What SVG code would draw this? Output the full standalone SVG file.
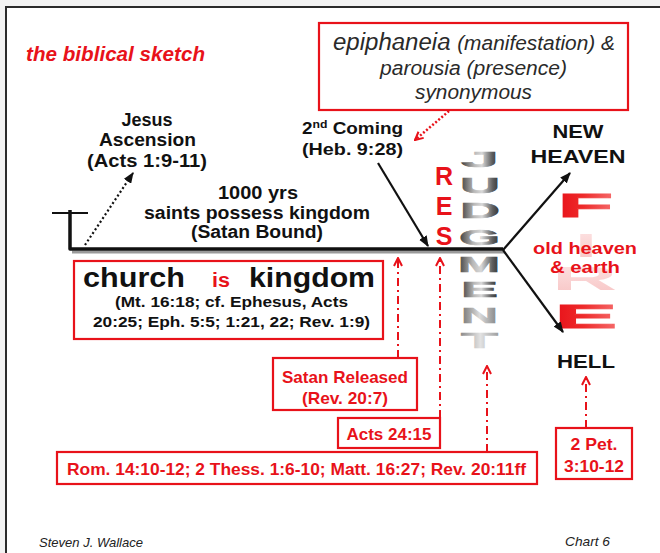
<svg xmlns="http://www.w3.org/2000/svg" width="660" height="553" viewBox="0 0 660 553">
<style>
text{font-family:"Liberation Sans",Arial,sans-serif;}
.b{font-weight:bold;fill:#111;}
.r{font-weight:bold;fill:#e8121a;}
.it{font-style:italic;fill:#2a2a2a;}
.box{fill:#fff;stroke:#e8121a;stroke-width:2.2;}
.rdd{fill:none;stroke:#e8121a;stroke-width:2;stroke-dasharray:8 4 2 4;}
.blk{fill:none;stroke:#111;stroke-width:2.2;}
.jd{font-weight:bold;font-size:22px;fill:url(#metal);stroke:url(#metal);stroke-width:0.6;}
.fr{font-weight:bold;font-size:33px;}
</style>
<defs>
<marker id="ah" viewBox="0 0 10 8" refX="9" refY="4" markerWidth="11" markerHeight="9" markerUnits="userSpaceOnUse" orient="auto"><path d="M0,0 L10,4 L0,8 z" fill="#111"/></marker>
<marker id="rh" viewBox="0 0 10 10" refX="9" refY="5" markerWidth="10" markerHeight="10" markerUnits="userSpaceOnUse" orient="auto"><path d="M1,1 L9,5 L1,9" fill="none" stroke="#e8121a" stroke-width="2"/></marker>
<linearGradient id="metal" x1="0" y1="0" x2="1" y2="0">
<stop offset="0" stop-color="#3a3a3a"/><stop offset="0.35" stop-color="#b8b8b8"/><stop offset="0.55" stop-color="#d8d8d8"/><stop offset="0.82" stop-color="#5e5e5e"/><stop offset="1" stop-color="#2e2e2e"/>
</linearGradient>
<linearGradient id="metal2" x1="0" y1="0" x2="1" y2="0">
<stop offset="0" stop-color="#707070"/><stop offset="0.5" stop-color="#dcdcdc"/><stop offset="1" stop-color="#808080"/>
</linearGradient>
<linearGradient id="fire" x1="0" y1="0" x2="1" y2="0">
<stop offset="0" stop-color="#e8121a"/><stop offset="0.45" stop-color="#ee2a2a"/><stop offset="1" stop-color="#f56a6a"/>
</linearGradient>
<linearGradient id="firel" x1="0" y1="0" x2="0" y2="1">
<stop offset="0" stop-color="#fde4e4"/><stop offset="1" stop-color="#f7c4c4"/>
</linearGradient>
</defs>
<rect x="0" y="0" width="660" height="553" fill="#f2f2f2"/>
<rect x="6" y="7" width="700" height="600" fill="#fff" stroke="#2b2b2b" stroke-width="2"/>

<g id="title"><text x="26" y="61" class="r" font-style="italic" font-size="20" textLength="179" lengthAdjust="spacingAndGlyphs">the biblical sketch</text></g>

<g id="synonymous">
<rect class="box" x="319" y="23" width="309" height="87"/>
<text class="it" x="333" y="50" font-size="23" textLength="282" lengthAdjust="spacingAndGlyphs">epiphaneia <tspan font-size="20">(manifestation) &amp;</tspan></text>
<text class="it" x="380" y="75" font-size="20.5" textLength="187" lengthAdjust="spacingAndGlyphs">parousia (presence)</text>
<text class="it" x="415" y="99" font-size="20.5" textLength="117" lengthAdjust="spacingAndGlyphs">synonymous</text>
</g>

<g id="fire">
<text class="fr" x="558" y="217" fill="url(#fire)" stroke="url(#fire)" stroke-width="1" textLength="55" lengthAdjust="spacingAndGlyphs">F</text>
<text class="fr" x="575" y="257" fill="url(#firel)" textLength="22" lengthAdjust="spacingAndGlyphs">I</text>
<text class="fr" x="552" y="290" fill="url(#firel)" textLength="65" lengthAdjust="spacingAndGlyphs">R</text>
<text class="fr" x="555" y="328" fill="url(#fire)" stroke="url(#fire)" stroke-width="1" textLength="62" lengthAdjust="spacingAndGlyphs">E</text>
</g>

<g id="timeline">
<line x1="72" y1="252" x2="505" y2="252" stroke="#9a9a9a" stroke-width="3"/>
<path d="M70,210 V249 H503" fill="none" stroke="#111" stroke-width="3.5" stroke-linejoin="round"/>
<line x1="52" y1="213" x2="88" y2="213" stroke="#111" stroke-width="2"/>
</g>

<g id="connectors">
<line class="blk" x1="85" y1="245" x2="133" y2="173" stroke-dasharray="2 2.5" marker-end="url(#ah)" stroke-width="2.5"/>
<line class="blk" x1="378" y1="163" x2="428" y2="246" marker-end="url(#ah)"/>
<line class="blk" x1="503" y1="250" x2="570" y2="173" marker-end="url(#ah)"/>
<line class="blk" x1="503" y1="250" x2="563" y2="332" marker-end="url(#ah)"/>
<line x1="449" y1="111" x2="415" y2="140" fill="none" stroke="#e8121a" stroke-width="2.5" stroke-dasharray="2 2" marker-end="url(#rh)"/>
<line class="rdd" x1="398" y1="358" x2="398" y2="258" marker-end="url(#rh)"/>
<line class="rdd" x1="440" y1="418" x2="440" y2="258" marker-end="url(#rh)"/>
<line class="rdd" x1="487" y1="452" x2="487" y2="366" marker-end="url(#rh)"/>
<line class="rdd" x1="586" y1="428" x2="586" y2="377" marker-end="url(#rh)"/>
</g>

<g id="res">
<text class="r" font-size="25" x="444" y="185" text-anchor="middle">R</text>
<text class="r" font-size="25" x="444" y="215" text-anchor="middle">E</text>
<text class="r" font-size="25" x="444" y="245" text-anchor="middle">S</text>
</g>

<g id="judgment">
<text class="jd" x="461" y="167" textLength="38" lengthAdjust="spacingAndGlyphs">J</text>
<text class="jd" x="460" y="193" textLength="40" lengthAdjust="spacingAndGlyphs">U</text>
<text class="jd" x="460" y="218" textLength="40" lengthAdjust="spacingAndGlyphs">D</text>
<text class="jd" x="459" y="245" textLength="41" lengthAdjust="spacingAndGlyphs">G</text>
<text class="jd" x="458" y="272" textLength="42" lengthAdjust="spacingAndGlyphs">M</text>
<text class="jd" x="461" y="297" textLength="37" lengthAdjust="spacingAndGlyphs">E</text>
<text class="jd" x="461" y="323" textLength="37" lengthAdjust="spacingAndGlyphs" style="fill:url(#metal2);stroke:url(#metal2)">N</text>
<text class="jd" x="461" y="348" textLength="37" lengthAdjust="spacingAndGlyphs" style="fill:url(#metal2);stroke:url(#metal2)" opacity="0.8">T</text>
</g>

<g id="ascension">
<text class="b" font-size="18" x="147" y="126" text-anchor="middle">Jesus</text>
<text class="b" font-size="18" x="147.5" y="146" text-anchor="middle" textLength="97" lengthAdjust="spacingAndGlyphs">Ascension</text>
<text class="b" font-size="18" x="147" y="167" text-anchor="middle" textLength="120" lengthAdjust="spacingAndGlyphs">(Acts 1:9-11)</text>
</g>

<g id="millennium">
<text class="b" font-size="18" x="258" y="199" text-anchor="middle" textLength="80" lengthAdjust="spacingAndGlyphs">1000 yrs</text>
<text class="b" font-size="18" x="257" y="219" text-anchor="middle" textLength="226" lengthAdjust="spacingAndGlyphs">saints possess kingdom</text>
<text class="b" font-size="18" x="257" y="238" text-anchor="middle" textLength="132" lengthAdjust="spacingAndGlyphs">(Satan Bound)</text>
</g>

<g id="second-coming">
<text class="b" font-size="17" x="302" y="134" textLength="101" lengthAdjust="spacingAndGlyphs">2<tspan font-size="11" dy="-6">nd</tspan><tspan dy="6"> Coming</tspan></text>
<text class="b" font-size="17" x="302" y="155" textLength="101" lengthAdjust="spacingAndGlyphs">(Heb. 9:28)</text>
</g>

<g id="new-heaven">
<text class="b" font-size="19" x="578" y="138" text-anchor="middle" textLength="51" lengthAdjust="spacingAndGlyphs">NEW</text>
<text class="b" font-size="19" x="578" y="163" text-anchor="middle" textLength="95" lengthAdjust="spacingAndGlyphs">HEAVEN</text>
</g>

<g id="old-heaven">
<text class="r" font-size="16" x="585" y="254" text-anchor="middle" textLength="104" lengthAdjust="spacingAndGlyphs">old heaven</text>
<text class="r" font-size="16" x="585" y="273" text-anchor="middle" textLength="70" lengthAdjust="spacingAndGlyphs">&amp; earth</text>
</g>

<g id="hell">
<text class="b" font-size="18" x="586" y="368" text-anchor="middle" textLength="58" lengthAdjust="spacingAndGlyphs">HELL</text>
</g>

<g id="church">
<rect class="box" x="74" y="261" width="309" height="78"/>
<text class="b" font-size="27" x="83" y="287" textLength="102" lengthAdjust="spacingAndGlyphs">church</text>
<text class="r" font-size="20" x="212" y="287" textLength="18" lengthAdjust="spacingAndGlyphs">is</text>
<text class="b" font-size="27" x="249" y="287" textLength="126" lengthAdjust="spacingAndGlyphs">kingdom</text>
<text class="b" font-size="15" x="231.5" y="307" text-anchor="middle" textLength="233" lengthAdjust="spacingAndGlyphs">(Mt. 16:18; cf. Ephesus, Acts</text>
<text class="b" font-size="15" x="231.5" y="327" text-anchor="middle" textLength="277" lengthAdjust="spacingAndGlyphs">20:25; Eph. 5:5; 1:21, 22; Rev. 1:9)</text>
</g>

<g id="satan-released">
<rect class="box" x="273" y="358" width="144" height="52"/>
<text class="r" font-size="17" x="345" y="383" text-anchor="middle" textLength="126" lengthAdjust="spacingAndGlyphs">Satan Released</text>
<text class="r" font-size="17" x="345" y="404" text-anchor="middle" textLength="86" lengthAdjust="spacingAndGlyphs">(Rev. 20:7)</text>
</g>

<g id="acts">
<rect class="box" x="338" y="418" width="102" height="30"/>
<text class="r" font-size="17" x="389" y="440" text-anchor="middle" textLength="85" lengthAdjust="spacingAndGlyphs">Acts 24:15</text>
</g>

<g id="judgment-refs">
<rect class="box" x="57" y="452" width="480" height="32"/>
<text class="r" font-size="16.5" x="296.5" y="475" text-anchor="middle" textLength="459" lengthAdjust="spacingAndGlyphs">Rom. 14:10-12; 2 Thess. 1:6-10; Matt. 16:27; Rev. 20:11ff</text>
</g>

<g id="peter">
<rect class="box" x="556" y="428" width="76" height="51"/>
<text class="r" font-size="17" x="594" y="450" text-anchor="middle" textLength="47" lengthAdjust="spacingAndGlyphs">2 Pet.</text>
<text class="r" font-size="17" x="594" y="472" text-anchor="middle" textLength="60" lengthAdjust="spacingAndGlyphs">3:10-12</text>
</g>

<g id="footer">
<text x="39" y="547" font-size="13" font-style="italic" fill="#222" textLength="104" lengthAdjust="spacingAndGlyphs">Steven J. Wallace</text>
<text x="565" y="546" font-size="13" font-style="italic" fill="#222" textLength="45" lengthAdjust="spacingAndGlyphs">Chart 6</text>
</g>
</svg>
